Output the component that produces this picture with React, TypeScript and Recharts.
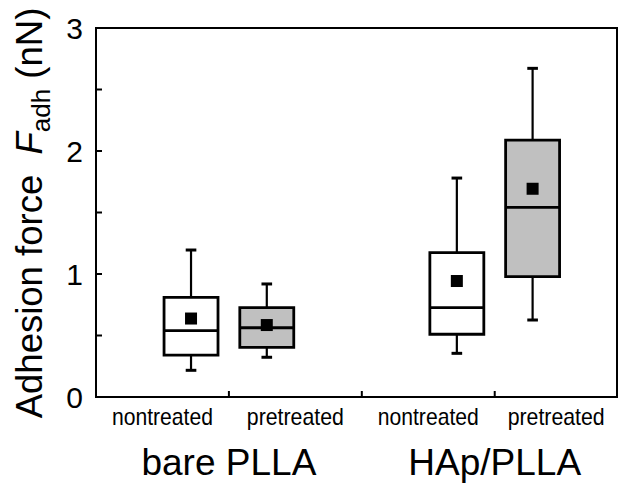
import React from 'react';
import { ComposedChart, XAxis, YAxis, Scatter, ReferenceArea, ReferenceLine } from 'recharts';

// box plot stats, order: bare/nontreated, bare/pretreated, HAp/nontreated, HAp/pretreated
const groups = ['bare PLLA', 'HAp/PLLA'];
const treatments = ['nontreated', 'pretreated'];
const whiskerLow = [0.217, 0.323, 0.355, 0.626];
const q1 = [0.341, 0.404, 0.51, 0.978];
const median = [0.54, 0.563, 0.726, 1.542];
const q3 = [0.81, 0.726, 1.173, 2.089];
const whiskerHigh = [1.195, 0.919, 1.78, 2.672];
const mean = [0.638, 0.585, 0.943, 1.693];
const yTicks = [0, 0.5, 1, 1.5, 2, 2.5, 3];

const FONT = "'Liberation Sans', Arial, sans-serif";
const X_MAX = 3.92;
const GROUP_CENTER = [1, 3];
const SHIFT = 0.285;
const HALF_BOX = 0.203;
const HALF_CAP = 0.04;
const boxFill = ['#ffffff', '#c0c0c0'];

const boxes = median.map((m, i) => ({
  x: GROUP_CENTER[Math.floor(i / 2)] + (i % 2 === 0 ? -SHIFT : SHIFT),
  treat: i % 2,
  lo: whiskerLow[i],
  q1: q1[i],
  med: m,
  q3: q3[i],
  hi: whiskerHigh[i],
  mean: mean[i],
}));

const meanData = boxes.map((b) => ({ x: b.x, y: b.mean }));

const XTick = (props: any) => {
  const { x, y, payload } = props;
  const v = payload.value as number;
  if (Number.isInteger(v)) {
    return (
      <g>
        <line x1={x} x2={x} y1={y} y2={y - 6} stroke="#000" strokeWidth={2} />
        {v === 1 || v === 3 ? (
          <text x={x} y={y + 78} textAnchor="middle" fontSize={37} fontFamily={FONT} fill="#000">
            {groups[(v - 1) / 2]}
          </text>
        ) : null}
      </g>
    );
  }
  const t = Math.floor(v) % 2;
  // last label sits a little left of its section centre in the original
  const dx = v === 3.5 ? -5 : 0;
  return (
    <text
      x={x + dx}
      y={y + 28}
      textAnchor="middle"
      fontSize={24}
      fontFamily={FONT}
      fill="#000"
      textLength={t === 0 ? 101 : 97}
      lengthAdjust="spacingAndGlyphs"
    >
      {treatments[t]}
    </text>
  );
};

const YTick = (props: any) => {
  const { x, y, payload } = props;
  const v = payload.value as number;
  return (
    <g>
      <line x1={x} x2={x + 6} y1={y} y2={y} stroke="#000" strokeWidth={2} />
      {Number.isInteger(v) ? (
        <text x={x - 13} y={y + 11} textAnchor="end" fontSize={30} fontFamily={FONT} fill="#000">
          {v}
        </text>
      ) : null}
    </g>
  );
};

const yTitle = () => (
  <text
    x={42}
    y={213}
    transform="rotate(-90 42 213)"
    textAnchor="middle"
    fontSize={36.5}
    fontFamily={FONT}
    fill="#000"
  >
    {'Adhesion force\u00a0\u00a0'}
    <tspan fontStyle="italic">F</tspan>
    <tspan fontSize={26} dy={8}>adh</tspan>
    <tspan dy={-8}>{'\u00a0(nN)'}</tspan>
  </text>
);

const MeanSquare = (props: any) => (
  <rect x={props.cx - 6} y={props.cy - 6} width={12} height={12} fill="#000" />
);

export default function App() {
  return (
    <div style={{ position: 'absolute', left: 0, top: 0, background: '#fff' }}>
      <ComposedChart width={620} height={490} margin={{ top: 28, right: 3, bottom: 0, left: 0 }}>
        <XAxis
          type="number"
          dataKey="x"
          domain={[0, X_MAX]}
          ticks={[0.5, 1, 1.5, 2, 2.5, 3, 3.5]}
          interval={0}
          height={93}
          axisLine={false}
          tickLine={false}
          tickSize={0}
          tickMargin={0}
          tick={<XTick />}
        />
        <YAxis
          type="number"
          dataKey="y"
          domain={[0, 3]}
          ticks={yTicks}
          interval={0}
          width={96}
          axisLine={false}
          tickLine={false}
          tickSize={0}
          tickMargin={0}
          tick={<YTick />}
          label={yTitle}
        />
        <ReferenceArea x1={0} x2={X_MAX} y1={0} y2={3} fill="none" stroke="#000" strokeWidth={2} />
        {boxes.map((b, i) => (
          <ReferenceLine
            key={`wl${i}`}
            segment={[{ x: b.x, y: b.lo }, { x: b.x, y: b.q1 }]}
            stroke="#000"
            strokeWidth={2.2}
          />
        ))}
        {boxes.map((b, i) => (
          <ReferenceLine
            key={`wh${i}`}
            segment={[{ x: b.x, y: b.q3 }, { x: b.x, y: b.hi }]}
            stroke="#000"
            strokeWidth={2.2}
          />
        ))}
        {boxes.map((b, i) => (
          <ReferenceLine
            key={`cl${i}`}
            segment={[{ x: b.x - HALF_CAP, y: b.lo }, { x: b.x + HALF_CAP, y: b.lo }]}
            stroke="#000"
            strokeWidth={3}
          />
        ))}
        {boxes.map((b, i) => (
          <ReferenceLine
            key={`ch${i}`}
            segment={[{ x: b.x - HALF_CAP, y: b.hi }, { x: b.x + HALF_CAP, y: b.hi }]}
            stroke="#000"
            strokeWidth={3}
          />
        ))}
        {boxes.map((b, i) => (
          <ReferenceArea
            key={`box${i}`}
            x1={b.x - HALF_BOX}
            x2={b.x + HALF_BOX}
            y1={b.q1}
            y2={b.q3}
            fill={boxFill[b.treat]}
            fillOpacity={1}
            stroke="#000"
            strokeWidth={2.8}
          />
        ))}
        {boxes.map((b, i) => (
          <ReferenceLine
            key={`med${i}`}
            segment={[{ x: b.x - HALF_BOX, y: b.med }, { x: b.x + HALF_BOX, y: b.med }]}
            stroke="#000"
            strokeWidth={2.8}
          />
        ))}
        <Scatter data={meanData} shape={<MeanSquare />} isAnimationActive={false} />
      </ComposedChart>
    </div>
  );
}
